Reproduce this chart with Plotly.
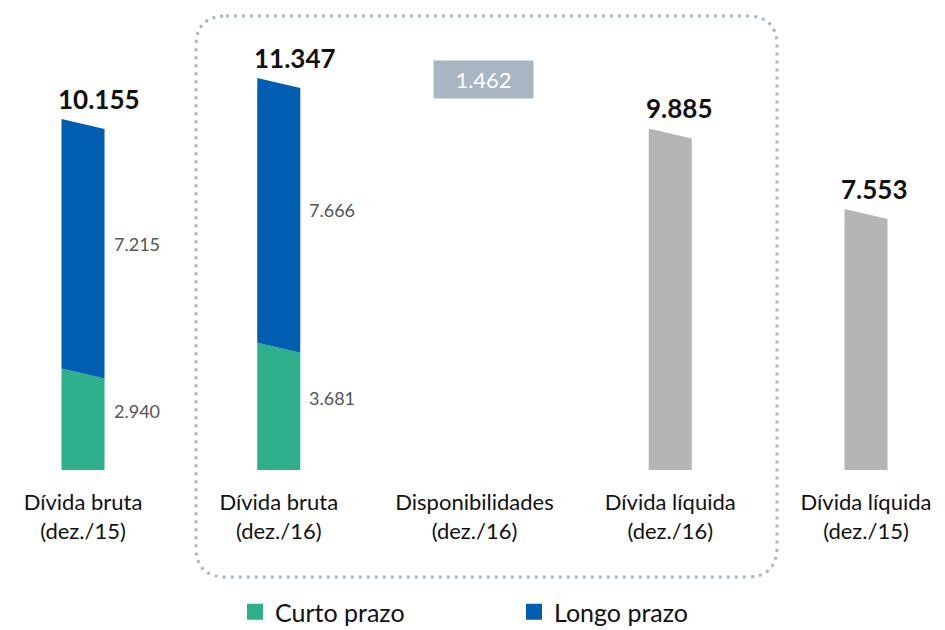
import plotly.graph_objects as go

categories = ["Dívida bruta<br>(dez./15)", "Dívida bruta<br>(dez./16)",
              "Disponibilidades<br>(dez./16)", "Dívida líquida<br>(dez./16)",
              "Dívida líquida<br>(dez./15)"]
curto_prazo = [2940, 3681, None, None, None]
longo_prazo = [7215, 7666, None, None, None]
divida_liquida = [None, None, None, 9885, 7553]
totais = [10155, 11347, None, 9885, 7553]
disponibilidades = 1462

fmt = lambda v: f"{v:,}".replace(",", ".")

GREEN = "#2eb08c"
BLUE = "#005eb0"
GRAY = "#b5b5b5"
BOXC = "#a8b5c2"
FONT = "Lato"
W = 0.22        # bar width in x units
SLANT = 290     # drop of the right top corner, in y units
YMAX = 13370

FW, FH = 937, 622   # page body adds an 8px margin in the browser
PH = FH - 160       # plot height in px

fig = go.Figure()

def poly(i, base, top, color, slant_base):
    x0, x1 = i - W / 2, i + W / 2
    b_r = base - SLANT if slant_base else base
    xs = [x0, x1, x1, x0, x0]
    ys = [base, b_r, top - SLANT, top, base]
    fig.add_trace(go.Scatter(x=xs, y=ys, fill="toself", fillcolor=color,
                             mode="lines", line=dict(width=0, color=color),
                             hoverinfo="skip", showlegend=False))

ann = []
for i in range(len(categories)):
    if curto_prazo[i] is not None:
        c, l = curto_prazo[i], longo_prazo[i]
        poly(i, 0, c, GREEN, False)
        poly(i, c, c + l, BLUE, True)
        ann.append(dict(x=i + W / 2, y=c / 2, text=fmt(c), xanchor="left", yanchor="middle",
                        xshift=7, yshift=8, showarrow=False,
                        font=dict(family=FONT, size=18, color="#555555")))
        ann.append(dict(x=i + W / 2, y=c + l / 2, text=fmt(l), xanchor="left", yanchor="middle",
                        xshift=7, showarrow=False,
                        font=dict(family=FONT, size=18, color="#555555")))
    if divida_liquida[i] is not None:
        poly(i, 0, divida_liquida[i], GRAY, False)
    if totais[i] is not None:
        ann.append(dict(x=i - W / 2, y=totais[i], text="<b>" + fmt(totais[i]) + "</b>",
                        xanchor="left", yanchor="bottom", xshift=-5, yshift=2, showarrow=False,
                        font=dict(family=FONT, size=26, color="#111111")))

# Disponibilidades label box (difference between gross and net debt)
ann.append(dict(x=2, y=totais[1], text=fmt(disponibilidades), xanchor="center", yanchor="middle",
                xshift=9, yshift=-2, showarrow=False, bgcolor=BOXC, width=97, height=35,
                font=dict(family=FONT, size=22, color="white")))

# legend dummy traces
fig.add_trace(go.Scatter(x=[None], y=[None], mode="markers", name="Curto prazo",
                         marker=dict(symbol="square", size=16, color=GREEN)))
fig.add_trace(go.Scatter(x=[None], y=[None], mode="markers", name="Longo prazo",
                         marker=dict(symbol="square", size=16, color=BLUE)))

# dotted rounded rectangle around the dez./16 group
x0, x1 = 188 / FW, 769 / FW
yt, yb = (PH - 8) / PH, (PH - 569) / PH
rx, ry = 30 / FW, 30 / PH
path = (f"M {x0+rx},{yt} L {x1-rx},{yt} Q {x1},{yt} {x1},{yt-ry} "
        f"L {x1},{yb+ry} Q {x1},{yb} {x1-rx},{yb} L {x0+rx},{yb} "
        f"Q {x0},{yb} {x0},{yb+ry} L {x0},{yt-ry} Q {x0},{yt} {x0+rx},{yt} Z")
fig.add_shape(type="path", path=path, xref="paper", yref="paper",
              line=dict(color=BOXC, width=3, dash="3px,5px"), layer="below")

fig.update_layout(
    width=FW, height=FH,
    margin=dict(l=0, r=0, t=0, b=160, autoexpand=False),
    plot_bgcolor="white", paper_bgcolor="white",
    annotations=ann,
    showlegend=True,
    legend=dict(orientation="h", x=0.54, xanchor="center", y=(PH - 604) / PH, yanchor="middle",
                font=dict(family=FONT, size=25, color="#111111"),
                entrywidth=234, itemwidth=30),
    xaxis=dict(range=[-75 / 195.75, (FW - 75) / 195.75], tickmode="array",
               tickvals=list(range(len(categories))),
               ticktext=categories, showgrid=False, zeroline=False, showline=False,
               automargin=False, ticklabelstandoff=17,
               ticks="", tickfont=dict(family=FONT, size=22, color="#111111")),
    yaxis=dict(range=[0, YMAX], visible=False, showgrid=False, zeroline=False),
)

fig.write_html("out.html")
